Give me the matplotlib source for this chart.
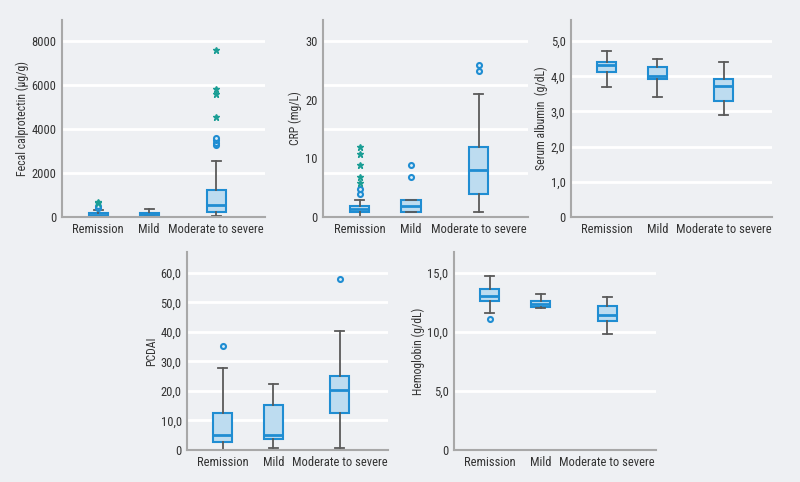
import matplotlib.pyplot as plt
from matplotlib import font_manager

groups = ['Remission', 'Mild', 'Moderate to severe']

# box stats per group: whislo, q1, med, q3, whishi
fcp_stats = [[0, 40, 100, 170, 320], [40, 60, 120, 200, 350], [30, 226, 530, 1210, 2550]]
fcp_circles = [[400, 480], [], [3260, 3380, 3500, 3580]]
fcp_stars = [[620, 700], [], [4530, 5570, 5800, 7580]]

crp_stats = [[0, 0.8, 1.3, 1.8, 2.85], [0.85, 0.85, 1.9, 2.95, 2.95], [0.85, 4.0, 7.95, 11.9, 20.9]]
crp_circles = [[3.9, 4.8], [6.8, 8.9], [24.9, 26.0]]
crp_stars = [[5.8, 6.9, 8.9, 10.8, 11.9], [], []]

alb_stats = [[3.70, 4.12, 4.31, 4.42, 4.72], [3.40, 3.91, 4.0, 4.26, 4.5], [2.91, 3.30, 3.72, 3.91, 4.41]]

pcdai_stats = [[0, 2.6, 5.1, 12.5, 27.7], [0.6, 3.6, 5.1, 15.1, 22.4], [0.6, 12.7, 20.2, 25.1, 40.4]]
pcdai_circles = [[35.3], [], [58.0]]

hb_stats = [[11.66, 12.65, 13.1, 13.67, 14.72], [12.0, 12.11, 12.37, 12.6, 13.2], [9.85, 10.95, 11.46, 12.17, 12.96]]
hb_circles = [[11.1], [], []]

bg = '#eef0f3'
blue = '#1f8dd2'
fill = '#bddcf0'
teal = '#1b9e95'

names = set(f.name for f in font_manager.fontManager.ttflist)
fam = ['DejaVu Sans']
for cand in ['Roboto Condensed', 'Liberation Sans Narrow', 'Open Sans Condensed', 'Liberation Sans']:
    if cand in names:
        fam = [cand, 'DejaVu Sans']
        break
plt.rcParams['font.family'] = fam
narrow = fam[0] != 'Liberation Sans'
xfs = 9 if narrow else 8
yfs = 9 if narrow else 8.5
lfs = 8.5 if narrow else 7.8

fig = plt.figure(figsize=(8, 4.82), dpi=100, facecolor=bg)

pos = [36, 87, 154]


def panel(rect, stats, ylabel, ylim, ticks, ticklabels, grid, circles=None, stars=None):
    ax = fig.add_axes(rect, facecolor=bg)
    bxp = []
    for s in stats:
        bxp.append({'whislo': s[0], 'q1': s[1], 'med': s[2], 'q3': s[3], 'whishi': s[4], 'fliers': []})
    ax.bxp(bxp, positions=pos, widths=19, showfliers=False, patch_artist=True,
           boxprops=dict(facecolor=fill, edgecolor=blue, linewidth=1.5),
           medianprops=dict(color=blue, linewidth=2),
           whiskerprops=dict(color='#5a5a5a', linewidth=1.3),
           capprops=dict(color='#5a5a5a', linewidth=1.3), capwidths=9)
    for g in grid:
        ax.axhline(g, color='white', lw=2, zorder=0)
    if circles:
        for p, vals in zip(pos, circles):
            ax.plot([p] * len(vals), vals, 'o', ms=3.6, mfc='#d8ecf8', mec=blue, mew=1.5, ls='none', zorder=4)
    if stars:
        for p, vals in zip(pos, stars):
            ax.plot([p] * len(vals), vals, '*', ms=5, color=teal, ls='none', zorder=4)
    ax.set_xlim(0, 203)
    ax.set_ylim(*ylim)
    ax.set_xticks(pos)
    ax.set_xticklabels(groups, fontsize=xfs, color='#333333')
    ax.set_yticks(ticks)
    ax.set_yticklabels(ticklabels, fontsize=yfs, color='#333333')
    ax.tick_params(length=0, pad=4)
    ax.set_ylabel(ylabel, fontsize=lfs, color='#333333', labelpad=2)
    for s in ['top', 'right']:
        ax.spines[s].set_visible(False)
    for s in ['left', 'bottom']:
        ax.spines[s].set_color('#a8a8a8')
        ax.spines[s].set_linewidth(1.5)
    return ax


panel([0.0775, 0.5498, 0.254, 0.4087], fcp_stats, 'Fecal calprotectin (µg/g)', (0, 8950),
      [0, 2000, 4000, 6000, 8000], ['0', '2000', '4000', '6000', '8000'], [2000, 4000, 6000, 8000],
      fcp_circles, fcp_stars)
panel([0.404, 0.5498, 0.256, 0.4087], crp_stats, 'CRP (mg/L)', (0, 33.6),
      [0, 10, 20, 30], ['0', '10', '20', '30'], [7.5, 15, 22.5, 30],
      crp_circles, crp_stars)
panel([0.714, 0.5498, 0.251, 0.4087], alb_stats, 'Serum albumin  (g/dL)', (0, 5.6),
      [0, 1, 2, 3, 4, 5], ['0', '1,0', '2,0', '3,0', '4,0', '5,0'], [1, 2, 3, 4, 5])
panel([0.234, 0.0664, 0.251, 0.411], pcdai_stats, 'PCDAI', (0, 67.1),
      [0, 10, 20, 30, 40, 50, 60], ['0', '10,0', '20,0', '30,0', '40,0', '50,0', '60,0'],
      [10, 20, 30, 40, 50, 60], pcdai_circles)
panel([0.5675, 0.0664, 0.2525, 0.411], hb_stats, 'Hemoglobin (g/dL)', (0, 16.8),
      [0, 5, 10, 15], ['0', '5,0', '10,0', '15,0'], [5, 10, 15], hb_circles)

fig.savefig('out.png', dpi=100, facecolor=bg)
